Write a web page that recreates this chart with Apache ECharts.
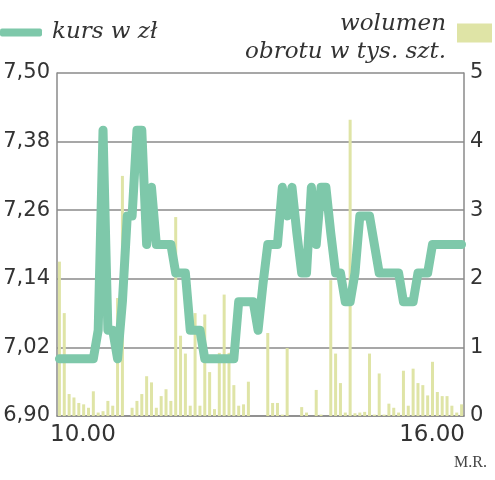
<!DOCTYPE html>
<html>
<head>
<meta charset="utf-8">
<script src="https://cdn.jsdelivr.net/npm/echarts@6/dist/echarts.min.js"></script>
<style>
html,body{margin:0;padding:0;background:#fff;}
#c{width:495px;height:480px;}
</style>
</head>
<body>
<div id="c"></div>
<script>
var priceName = 'kurs w zł';
var volumeName = 'wolumen\nobrotu w tys. szt.';
var xTickLabels = ['10.00', '16.00'];
var priceTicks = [6.90, 7.50, 0.12];
var volumeTicks = [0, 5, 1];

var price = [
  7.00, 7.00, 7.00, 7.00, 7.00, 7.00, 7.00, 7.00, 7.05, 7.40,
  7.05, 7.05, 7.00, 7.10, 7.25, 7.25, 7.40, 7.40, 7.20, 7.30,
  7.20, 7.20, 7.20, 7.20, 7.15, 7.15, 7.15, 7.05, 7.05, 7.05,
  7.00, 7.00, 7.00, 7.00, 7.00, 7.00, 7.00, 7.10, 7.10, 7.10,
  7.10, 7.05, 7.13, 7.20, 7.20, 7.20, 7.30, 7.25, 7.30, 7.22,
  7.15, 7.15, 7.30, 7.20, 7.30, 7.30, 7.22, 7.15, 7.15, 7.10,
  7.10, 7.15, 7.25, 7.25, 7.25, 7.20, 7.15, 7.15, 7.15, 7.15,
  7.15, 7.10, 7.10, 7.10, 7.15, 7.15, 7.15, 7.20, 7.20, 7.20,
  7.20, 7.20, 7.20, 7.20
];

var volume = [
  2.25, 1.50, 0.32, 0.27, 0.19, 0.17, 0.12, 0.36, 0.05, 0.07,
  0.22, 0.15, 1.72, 3.50, 0, 0.12, 0.22, 0.32, 0.58, 0.49,
  0.12, 0.29, 0.39, 0.22, 2.90, 1.17, 0.91, 0.15, 1.50, 0.15,
  1.48, 0.64, 0.10, 0.92, 1.77, 0.92, 0.45, 0.15, 0.17, 0.50,
  0, 0, 0, 1.21, 0.19, 0.19, 0.02, 0.99, 0, 0,
  0.13, 0.05, 0, 0.38, 0.02, 0, 1.98, 0.91, 0.48, 0.05,
  4.32, 0.04, 0.05, 0.06, 0.91, 0.02, 0.62, 0.02, 0.18, 0.12,
  0.05, 0.66, 0.15, 0.69, 0.48, 0.45, 0.30, 0.79, 0.35, 0.29,
  0.29, 0.15, 0.05, 0.17
];

var categories = price.map(function (_, i) { return String(i); });
var lastIdx = categories.length - 1;

var lineColor = '#7ec8aa';
var barColor = '#dfe4a6';
var gridColor = '#8a8a8a';
var tickFont = 'DejaVu Sans';
var serif = 'DejaVu Serif';

var chart = echarts.init(document.getElementById('c'), null, {renderer: 'canvas'});
chart.setOption({
  animation: false,
  backgroundColor: '#fff',
  grid: {left: 57, right: 31, top: 73, bottom: 64, containLabel: false},
  title: {
    text: 'M.R.', right: 3, bottom: 4,
    textStyle: {fontFamily: 'Liberation Serif', fontWeight: 'normal', fontSize: 16, color: '#444'}
  },
  legend: [
    {
      left: 0, top: 21, padding: 0, data: [priceName], selectedMode: false,
      icon: 'roundRect', itemWidth: 42, itemHeight: 8,
      textStyle: {fontFamily: serif, fontStyle: 'italic', fontSize: 23, color: '#333', padding: [0, 0, 0, 5]}
    },
    {
      right: 3, top: 10, padding: 0, align: 'right', data: [volumeName], selectedMode: false,
      icon: 'path://M0,0L35,0L35,19L0,19Z M0,29L0,29', itemWidth: 35, itemHeight: 29,
      textStyle: {fontFamily: serif, fontStyle: 'italic', fontSize: 23, color: '#333', lineHeight: 28, padding: [0, 6, 0, 0]}
    }
  ],
  xAxis: {
    type: 'category',
    data: categories,
    boundaryGap: true,
    axisLine: {show: true, lineStyle: {color: gridColor, width: 1.5}},
    axisTick: {show: false},
    splitLine: {show: false},
    axisLabel: {
      interval: function (idx) { return idx === 0 || idx === lastIdx; },
      margin: 8,
      formatter: function (v, idx) {
        return idx === 0 ? '{a|' + xTickLabels[0] + '}' : '{b|' + xTickLabels[1] + '}';
      },
      rich: {
        a: {fontFamily: tickFont, fontSize: 23, color: '#333', padding: [0, 0, 0, 47]},
        b: {fontFamily: tickFont, fontSize: 23, color: '#333', padding: [0, 59, 0, 0]}
      }
    }
  },
  yAxis: [
    {
      type: 'value', position: 'left',
      min: priceTicks[0], max: priceTicks[1], interval: priceTicks[2],
      axisLine: {show: true, lineStyle: {color: gridColor, width: 1.5}},
      axisTick: {show: false},
      splitLine: {show: false},
      axisLabel: {
        margin: 7, fontFamily: tickFont, fontSize: 21, color: '#333',
        formatter: function (v) { return v.toFixed(2).replace('.', ','); }
      }
    },
    {
      type: 'value', position: 'right',
      min: volumeTicks[0], max: volumeTicks[1], interval: volumeTicks[2],
      axisLine: {show: true, lineStyle: {color: gridColor, width: 1.5}},
      axisTick: {show: false},
      splitLine: {show: true, lineStyle: {color: gridColor, width: 1.5}},
      axisLabel: {margin: 6, fontFamily: tickFont, fontSize: 21, color: '#333'}
    }
  ],
  series: [
    {
      name: volumeName, type: 'bar', yAxisIndex: 1, data: volume,
      barWidth: 3, itemStyle: {color: barColor}, z: 2
    },
    {
      name: priceName, type: 'line', yAxisIndex: 0, data: price,
      symbol: 'none', itemStyle: {color: lineColor},
      lineStyle: {color: lineColor, width: 9, cap: 'round', join: 'round'}, z: 3
    }
  ]
});
</script>
</body>
</html>
